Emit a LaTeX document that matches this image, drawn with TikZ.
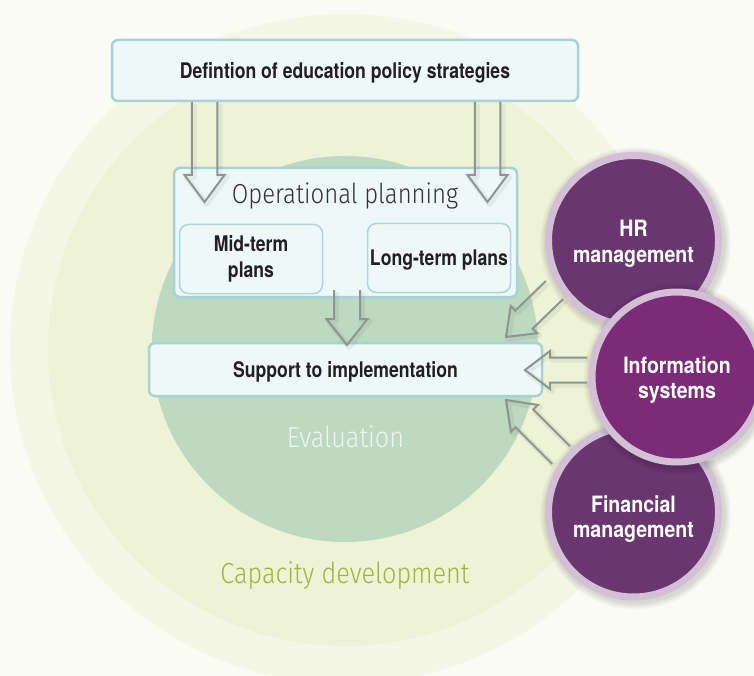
\documentclass[tikz,border=0pt]{standalone}
\usepackage{fontspec}
\setmainfont{TeX Gyre Heros}
\newfontfamily\boxfont[FakeStretch=0.82]{TeX Gyre Heros}
\newfontfamily\circfont[FakeStretch=0.87]{TeX Gyre Heros}
\newfontfamily\lightfont[FakeStretch=0.87]{Fira Sans Light}
\usetikzlibrary{calc}
\definecolor{bgc}{HTML}{FAFBF2}
\definecolor{outerc}{HTML}{F4F7E5}
\definecolor{innerc}{HTML}{EEF2D6}
\definecolor{evalin}{HTML}{BDD9C0}
\definecolor{evalout}{HTML}{AFCFB4}
\definecolor{boxfill}{HTML}{EFF8F8}
\definecolor{boxline}{HTML}{A6D3D9}
\definecolor{subline}{HTML}{AED6DB}
\definecolor{arrc}{HTML}{8E9690}
\definecolor{purpa}{HTML}{693670}
\definecolor{purpb}{HTML}{7B2B78}
\definecolor{ringc}{HTML}{D3BFD6}
\definecolor{txt}{HTML}{231F20}
\definecolor{optxt}{HTML}{333333}
\definecolor{evtxt}{HTML}{EEF5EE}
\definecolor{captxt}{HTML}{A0B838}
\pgfdeclareradialshading{evalshade}{\pgfpoint{0bp}{0bp}}{color(0bp)=(evalin); color(44bp)=(evalin); color(50bp)=(evalout)}
\tikzset{
  box/.style={draw=boxline, line width=2.5pt, fill=boxfill, rounded corners=6pt, inner sep=0pt,
    font=\boxfont\bfseries\fontsize{21.5}{26}\selectfont, text=txt, align=center},
  subbox/.style={box, line width=1.5pt, draw=subline, rounded corners=9pt},
  pcircle/.style={circle, draw=ringc, line width=7pt, minimum size=170pt, inner sep=0pt},
  ctext/.style={text=white, align=center, inner sep=0pt, font=\circfont\bfseries\fontsize{22.5}{25.5}\selectfont},
  lighttext/.style={inner sep=0pt, anchor=base},
  arrowline/.style={draw=arrc, line width=2pt, line join=miter},
  arrglow/.style={draw=black, opacity=0.05, line width=6pt, line join=round},
}
\newcommand\hollowarrow[5]{%
  \coordinate (hb) at ($(#2)!#5!(#1)$);
  \draw[arrglow, transform canvas={shift={(2pt,-2pt)}}] ($(#1)!#3!90:(#2)$) -- ($(hb)!#3!90:(#2)$) -- ($(hb)!#4!90:(#2)$) -- (#2) -- ($(hb)!#4!-90:(#2)$) -- ($(hb)!#3!-90:(#2)$) -- ($(#1)!#3!-90:(#2)$);
  \draw[arrowline] ($(#1)!#3!90:(#2)$) -- ($(hb)!#3!90:(#2)$) -- ($(hb)!#4!90:(#2)$) -- (#2) -- ($(hb)!#4!-90:(#2)$) -- ($(hb)!#3!-90:(#2)$) -- ($(#1)!#3!-90:(#2)$);
}
\begin{document}
\begin{tikzpicture}[x=1pt,y=-1pt]
\useasboundingbox (0,0) rectangle (754,676);
\begin{scope}
\clip (0,0) rectangle (754,676);
\fill[bgc] (0,0) rectangle (754,676);
\coordinate (ctr) at (345,349);
\fill[outerc] (ctr) circle (335);
\fill[innerc] (ctr) circle (297);
\shade[shading=evalshade] (ctr) circle (193);

\node[lighttext, text=captxt, font=\lightfont\fontsize{29}{30}\selectfont] (caplabel) at (345,583) {Capacity development};
\node[lighttext, text=evtxt, font=\lightfont\fontsize{29}{30}\selectfont] (evallabel) at (345.5,447) {Evaluation};

% boxes
\node[box, minimum width=466, minimum height=61, text height=15.5pt, text depth=0pt] (def) at (345,70.5) {Defintion of education policy strategies};
\node[box, minimum width=343, minimum height=129] (op) at (345.5,232.5) {};
\node[lighttext, text=optxt, font=\lightfont\fontsize{27.5}{30}\selectfont] (oplabel) at (345,204) {Operational planning};
\node[subbox, minimum width=143, minimum height=69] (mid) at (251,259) {Mid-term\\plans};
\node[subbox, minimum width=143, minimum height=69, text height=15.5pt, text depth=0pt] (long) at (439,258) {Long-term plans};
\node[box, minimum width=393, minimum height=53, text height=15.5pt, text depth=0pt] (impl) at (345.5,369.5) {Support to implementation};

% arrows between boxes
\coordinate (a1s) at (204.5,102); \coordinate (a1t) at (204.5,202);
\coordinate (a2s) at (487.5,102); \coordinate (a2t) at (487.5,202);
\coordinate (a3s) at (347,290);   \coordinate (a3t) at (347,345);
\hollowarrow{a1s}{a1t}{12.75pt}{20pt}{27pt}
\hollowarrow{a2s}{a2t}{12.75pt}{20pt}{27pt}
\hollowarrow{a3s}{a3t}{13pt}{20.5pt}{26pt}

% purple circles with soft shadows
\coordinate (hrc) at (633.5,240.5);
\coordinate (finc) at (633.5,512);
\coordinate (infc) at (677,377);
\foreach \k in {1,...,7} \fill[black, opacity=0.02] ($(hrc)+(2,2)$) circle (88.5+\k);
\node[pcircle, fill=purpa] (hr) at (hrc) {};
\node[ctext] (hrlabel) at (633.5,244) {HR\\management};
\foreach \k in {1,...,7} \fill[black, opacity=0.02] ($(finc)+(2,2)$) circle (88.5+\k);
\node[pcircle, fill=purpa] (fin) at (finc) {};
\node[ctext] (finlabel) at (633.5,519) {Financial\\management};
\foreach \k in {1,...,7} \fill[black, opacity=0.02] ($(infc)+(2,2)$) circle (88.5+\k);
\node[pcircle, fill=purpb] (info) at (infc) {};
\node[ctext] (infolabel) at (677,380) {Information\\systems};

% arrows from circles
\coordinate (b1s) at (554.5,290); \coordinate (b1t) at (506,337);
\coordinate (b2s) at (587,370);   \coordinate (b2t) at (525,370);
\coordinate (b3s) at (561,455);   \coordinate (b3t) at (506,400);
\hollowarrow{b1s}{b1t}{12.5pt}{19pt}{25pt}
\hollowarrow{b2s}{b2t}{12.5pt}{19pt}{25pt}
\hollowarrow{b3s}{b3t}{12.5pt}{19pt}{26pt}
\end{scope}
\end{tikzpicture}
\end{document}
